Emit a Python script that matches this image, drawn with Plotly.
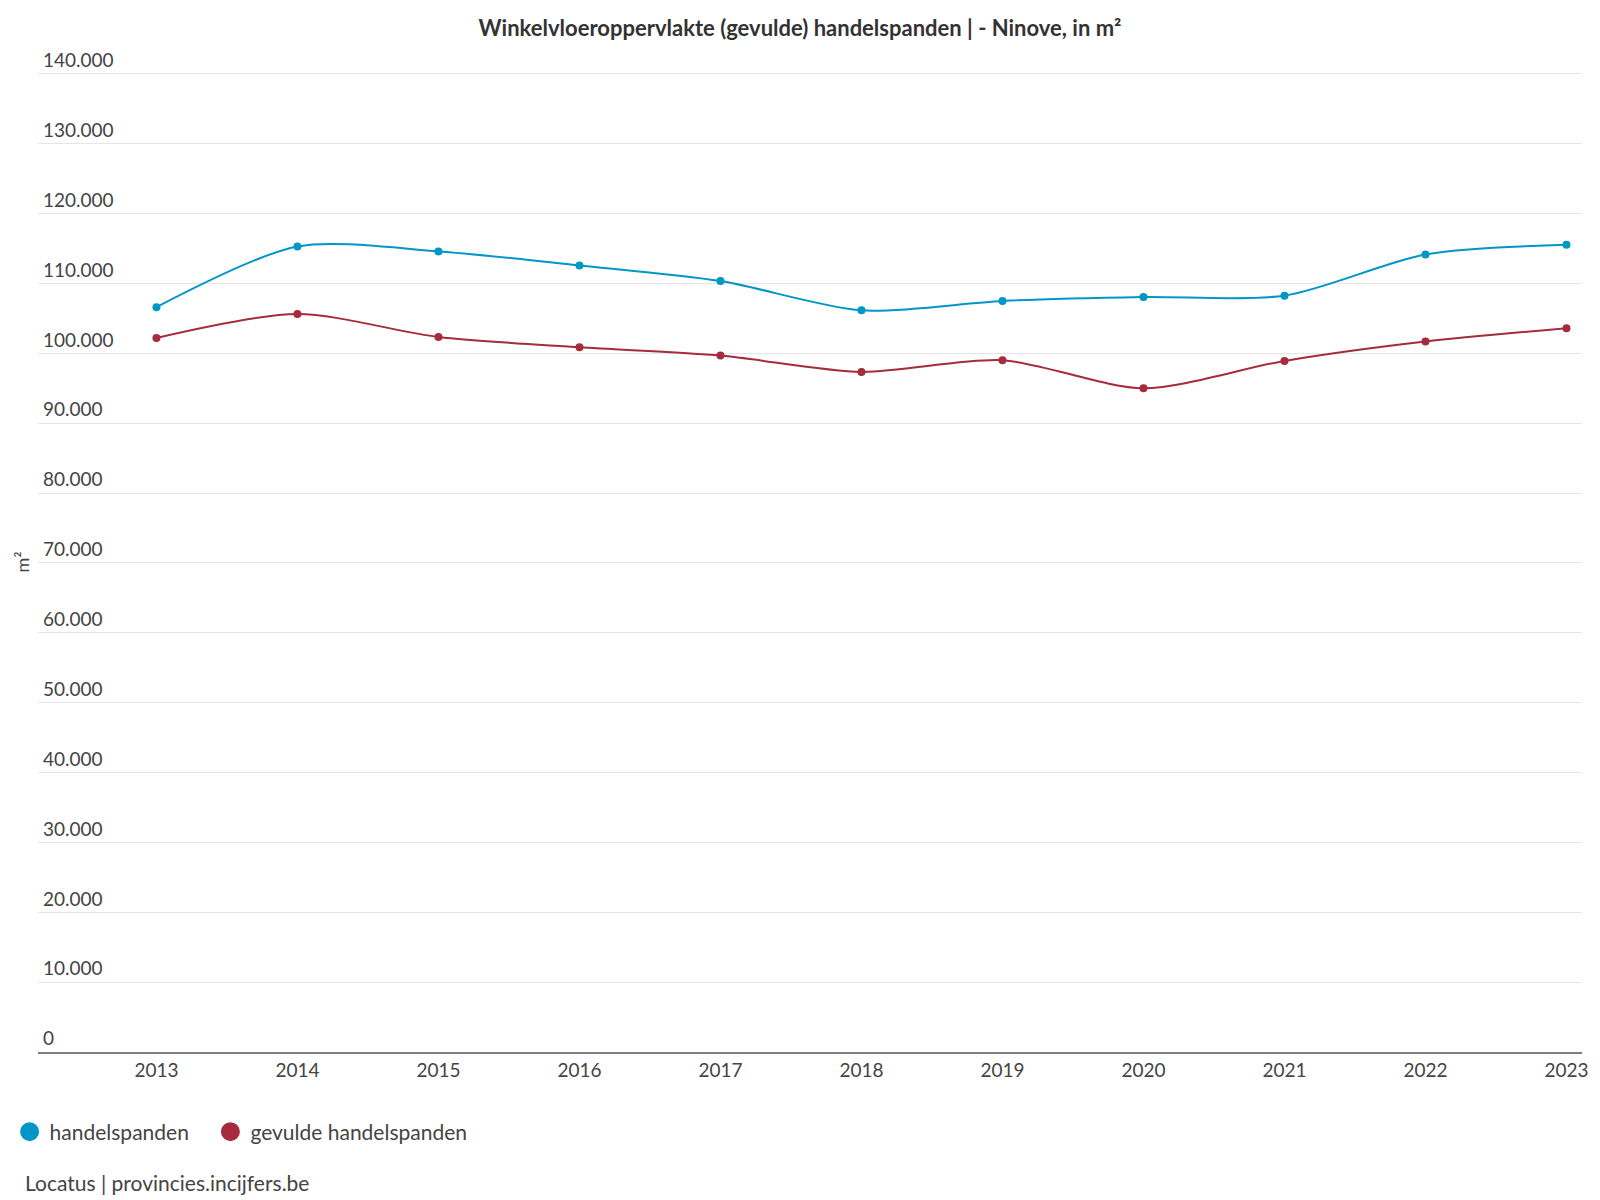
import plotly.graph_objects as go

years = [2013, 2014, 2015, 2016, 2017, 2018, 2019, 2020, 2021, 2022, 2023]
handelspanden = [106600, 115290, 114570, 112570, 110340, 106140, 107490, 108050, 108240, 114140, 115510]
gevulde = [102190, 105620, 102330, 100860, 99670, 97330, 99000, 95000, 98900, 101670, 103570]
y_ticks = list(range(0, 140001, 10000))

BLUE = "#0096c7"
RED = "#a62b3c"
TXT = "#444444"
FONT = "Lato"

fig = go.Figure()
fig.add_trace(go.Scatter(
    x=years, y=handelspanden, mode="lines+markers", name="handelspanden",
    line=dict(color=BLUE, width=2, shape="spline", smoothing=0.8),
    marker=dict(color=BLUE, size=8), showlegend=False))
fig.add_trace(go.Scatter(
    x=years, y=gevulde, mode="lines+markers", name="gevulde handelspanden",
    line=dict(color=RED, width=2, shape="spline", smoothing=0.8),
    marker=dict(color=RED, size=8), showlegend=False))
# legend-only entries (circles)
fig.add_trace(go.Scatter(x=[None], y=[None], mode="markers", name="handelspanden",
                         marker=dict(color=BLUE, size=16, line=dict(color=BLUE, width=3)),
                         legend="legend"))
fig.add_trace(go.Scatter(x=[None], y=[None], mode="markers", name="gevulde handelspanden",
                         marker=dict(color=RED, size=16, line=dict(color=RED, width=3)),
                         legend="legend2"))

leg_common = dict(orientation="h", xref="container", yref="container",
                  xanchor="left", y=1 - 1132 / 1200, yanchor="middle",
                  font=dict(family=FONT, size=21, color=TXT),
                  itemwidth=30, bgcolor="rgba(0,0,0,0)")

fig.update_layout(
    width=1600, height=1200,
    paper_bgcolor="white", plot_bgcolor="white",
    separators=",.",
    font=dict(family=FONT, color=TXT, size=19),
    margin=dict(l=38, r=12, t=72, b=148),
    title=dict(text="<b>Winkelvloeroppervlakte (gevulde) handelspanden | - Ninove, in m²</b>",
               x=0.5, xref="container", xanchor="center",
               y=1 - 28 / 1200, yref="container", yanchor="middle",
               font=dict(family=FONT, size=22, color="#333333")),
    legend=dict(x=0.006, **leg_common),
    legend2=dict(x=0.1315, **leg_common),
    showlegend=True,
    hovermode=False,
)
fig.update_xaxes(
    range=[2012.16, 2023.11], tickmode="array", tickvals=years,
    ticktext=[str(y) for y in years],
    showgrid=False, zeroline=False, showline=True, linecolor="#7f7f7f", linewidth=1.5,
    ticks="", tickfont=dict(family=FONT, size=19, color=TXT),
)
fig.update_yaxes(
    range=[0, 140250], tickmode="array", tickvals=y_ticks, tickformat=",d",
    showgrid=True, gridcolor="#e6e6e6", gridwidth=1, zeroline=False, showline=False,
    ticks="", ticklabelposition="inside top", ticklabelstandoff=2,
    ticklabeloverflow="allow",
    tickfont=dict(family=FONT, size=19, color=TXT),
    title=dict(text="m²", font=dict(family=FONT, size=18, color=TXT), standoff=8),
)
fig.add_annotation(text="Locatus | provincies.incijfers.be", xref="paper", yref="paper",
                   x=-15 / 1550, xanchor="left", y=-(1182 - 1052) / 980, yanchor="middle",
                   showarrow=False, font=dict(family=FONT, size=21, color=TXT))

fig.write_html("out.html", config={"displayModeBar": False},
               post_script="document.body.style.margin='0';")
